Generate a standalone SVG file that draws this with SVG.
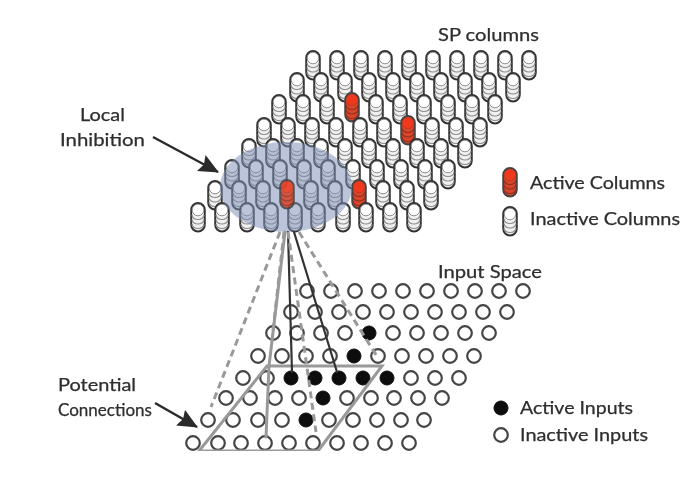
<svg xmlns="http://www.w3.org/2000/svg" width="694" height="482" viewBox="0 0 694 482">
<style>
text{font-family:Lato,"Open Sans","Liberation Sans",sans-serif;font-size:17px;fill:#2e2e2e;stroke:#2e2e2e;stroke-width:.25}
.i{fill:#fff;stroke:#444;stroke-width:2.2}
.a{fill:#111;stroke:#111;stroke-width:1}
.s{fill:none;stroke-linecap:round}
.gs{stroke:#999;stroke-width:3}
.ds{stroke:#333;stroke-width:2.2}
.gd{stroke:#999;stroke-width:3;stroke-dasharray:7 4.5;stroke-linecap:butt}
.ar{stroke:#2a2a2a;stroke-width:2.4;fill:none}
</style>
<defs>
<filter id="soft" x="0" y="0" width="100%" height="100%"><feGaussianBlur stdDeviation="0.55"/></filter>
<g id="col">
<rect x="-6.8" y="-7" width="13.6" height="28.5" rx="6.8" fill="#f0f0f0" stroke="#333" stroke-width="1.9"/>
<path d="M-6 5a6 4.5 0 0 0 12 0M-6 9.5a6 4.5 0 0 0 12 0M-6 14a6 4.5 0 0 0 12 0" fill="none" stroke="#8a8a8a" stroke-width="1.2"/>
<circle r="5.8" fill="#fff" stroke="#777" stroke-width=".8"/>
</g>
<g id="red">
<rect x="-6.8" y="-7" width="13.6" height="28.5" rx="6.8" fill="#d8442a" stroke="#444" stroke-width="1.9"/>
<path d="M-6 5a6 4.5 0 0 0 12 0M-6 9.5a6 4.5 0 0 0 12 0M-6 14a6 4.5 0 0 0 12 0" fill="none" stroke="#8c3020" stroke-width="1.2"/>
<circle r="5.8" fill="#f0391f" stroke="#b23a24" stroke-width=".8"/>
</g>
<marker id="head" markerUnits="userSpaceOnUse" markerWidth="22" markerHeight="20" refX="19" refY="9" orient="auto"><path d="M0 0L20 9L0 18L3 9Z" fill="#2a2a2a"/></marker>
</defs>
<rect width="694" height="482" fill="#fff"/>
<g filter="url(#soft)">
<g id="columns">
<g id="c8-0"><use href="#col" x="313" y="58"/></g><g id="c8-1"><use href="#col" x="337" y="58"/></g><g id="c8-2"><use href="#col" x="361" y="58"/></g><g id="c8-3"><use href="#col" x="385" y="58"/></g><g id="c8-4"><use href="#col" x="409" y="58"/></g><g id="c8-5"><use href="#col" x="433" y="58"/></g><g id="c8-6"><use href="#col" x="457" y="58"/></g><g id="c8-7"><use href="#col" x="481" y="58"/></g><g id="c8-8"><use href="#col" x="505" y="58"/></g><g id="c8-9"><use href="#col" x="529" y="58"/></g>
<g id="c7-0"><use href="#col" x="297" y="80"/></g><g id="c7-1"><use href="#col" x="321" y="80"/></g><g id="c7-2"><use href="#col" x="345" y="80"/></g><g id="c7-3"><use href="#col" x="369" y="80"/></g><g id="c7-4"><use href="#col" x="393" y="80"/></g><g id="c7-5"><use href="#col" x="417" y="80"/></g><g id="c7-6"><use href="#col" x="441" y="80"/></g><g id="c7-7"><use href="#col" x="465" y="80"/></g><g id="c7-8"><use href="#col" x="489" y="80"/></g><g id="c7-9"><use href="#col" x="513" y="80"/></g>
<g id="c6-0"><use href="#col" x="279" y="102"/></g><g id="c6-1"><use href="#col" x="303" y="102"/></g><g id="c6-2"><use href="#col" x="327" y="102"/></g><g id="c6-3"><use href="#red" x="352" y="100"/></g><g id="c6-4"><use href="#col" x="376" y="102"/></g><g id="c6-5"><use href="#col" x="400" y="102"/></g><g id="c6-6"><use href="#col" x="424" y="102"/></g><g id="c6-7"><use href="#col" x="448" y="102"/></g><g id="c6-8"><use href="#col" x="472" y="102"/></g><g id="c6-9"><use href="#col" x="495" y="102"/></g>
<g id="c5-0"><use href="#col" x="264" y="125"/></g><g id="c5-1"><use href="#col" x="288" y="125"/></g><g id="c5-2"><use href="#col" x="312" y="125"/></g><g id="c5-3"><use href="#col" x="336" y="125"/></g><g id="c5-4"><use href="#col" x="360" y="125"/></g><g id="c5-5"><use href="#col" x="384" y="125"/></g><g id="c5-6"><use href="#red" x="408" y="123"/></g><g id="c5-7"><use href="#col" x="432" y="125"/></g><g id="c5-8"><use href="#col" x="456" y="125"/></g><g id="c5-9"><use href="#col" x="480" y="125"/></g>
<g id="c4-0"><use href="#col" x="249" y="146"/></g><g id="c4-1"><use href="#col" x="273" y="146"/></g><g id="c4-2"><use href="#col" x="297" y="146"/></g><g id="c4-3"><use href="#col" x="321" y="146"/></g><g id="c4-4"><use href="#col" x="345" y="146"/></g><g id="c4-5"><use href="#col" x="369" y="146"/></g><g id="c4-6"><use href="#col" x="393" y="146"/></g><g id="c4-7"><use href="#col" x="417" y="146"/></g><g id="c4-8"><use href="#col" x="441" y="146"/></g><g id="c4-9"><use href="#col" x="465" y="146"/></g>
<g id="c3-0"><use href="#col" x="232" y="167"/></g><g id="c3-1"><use href="#col" x="256" y="167"/></g><g id="c3-2"><use href="#col" x="280" y="167"/></g><g id="c3-3"><use href="#col" x="304" y="167"/></g><g id="c3-4"><use href="#col" x="328" y="167"/></g><g id="c3-5"><use href="#col" x="353" y="167"/></g><g id="c3-6"><use href="#col" x="377" y="167"/></g><g id="c3-7"><use href="#col" x="401" y="167"/></g><g id="c3-8"><use href="#col" x="425" y="167"/></g><g id="c3-9"><use href="#col" x="448" y="167"/></g>
<g id="c2-0"><use href="#col" x="215" y="188"/></g><g id="c2-1"><use href="#col" x="239" y="188"/></g><g id="c2-2"><use href="#col" x="263" y="188"/></g><g id="c2-4"><use href="#col" x="311" y="188"/></g><g id="c2-5"><use href="#col" x="335" y="188"/></g><g id="c2-6"><use href="#red" x="359" y="187"/></g><g id="c2-7"><use href="#col" x="383" y="188"/></g><g id="c2-8"><use href="#col" x="407" y="188"/></g><g id="c2-9"><use href="#col" x="431" y="188"/></g>
<g id="c1-0"><use href="#col" x="198" y="210"/></g><g id="c1-1"><use href="#col" x="222" y="210"/></g><g id="c1-2"><use href="#col" x="247" y="210"/></g><g id="c1-3"><use href="#col" x="271" y="210"/></g><g id="c1-4"><use href="#col" x="295" y="210"/></g><g id="c1-5"><use href="#col" x="318" y="210"/></g><g id="c1-6"><use href="#col" x="343" y="210"/></g><g id="c1-7"><use href="#col" x="366" y="210"/></g><g id="c1-8"><use href="#col" x="390" y="210"/></g><g id="c1-9"><use href="#col" x="414" y="210"/></g>
</g>
<g id="inhibition-area"><ellipse cx="286" cy="187" rx="66" ry="45" fill="#7c8db6" fill-opacity="0.52"/></g>
<g id="c2-3"><use href="#red" x="287" y="187" opacity=".88"/></g>
<g id="inputs">
<g id="i8-0"><circle class="i" cx="307" cy="291" r="6.8"/></g><g id="i8-1"><circle class="i" cx="331" cy="291" r="6.8"/></g><g id="i8-2"><circle class="i" cx="355" cy="291" r="6.8"/></g><g id="i8-3"><circle class="i" cx="379" cy="291" r="6.8"/></g><g id="i8-4"><circle class="i" cx="403" cy="291" r="6.8"/></g><g id="i8-5"><circle class="i" cx="427" cy="291" r="6.8"/></g><g id="i8-6"><circle class="i" cx="451" cy="291" r="6.8"/></g><g id="i8-7"><circle class="i" cx="475" cy="291" r="6.8"/></g><g id="i8-8"><circle class="i" cx="499" cy="291" r="6.8"/></g><g id="i8-9"><circle class="i" cx="523" cy="291" r="6.8"/></g>
<g id="i7-0"><circle class="i" cx="291" cy="312" r="6.8"/></g><g id="i7-1"><circle class="i" cx="315" cy="312" r="6.8"/></g><g id="i7-2"><circle class="i" cx="339" cy="312" r="6.8"/></g><g id="i7-3"><circle class="i" cx="363" cy="312" r="6.8"/></g><g id="i7-4"><circle class="i" cx="387" cy="312" r="6.8"/></g><g id="i7-5"><circle class="i" cx="411" cy="312" r="6.8"/></g><g id="i7-6"><circle class="i" cx="435" cy="312" r="6.8"/></g><g id="i7-7"><circle class="i" cx="459" cy="312" r="6.8"/></g><g id="i7-8"><circle class="i" cx="483" cy="312" r="6.8"/></g><g id="i7-9"><circle class="i" cx="507" cy="312" r="6.8"/></g>
<g id="i6-0"><circle class="i" cx="273" cy="333" r="6.8"/></g><g id="i6-1"><circle class="i" cx="297" cy="333" r="6.8"/></g><g id="i6-2"><circle class="i" cx="321" cy="333" r="6.8"/></g><g id="i6-3"><circle class="i" cx="345" cy="333" r="6.8"/></g><g id="i6-4"><circle class="a" cx="369" cy="333" r="7"/></g><g id="i6-5"><circle class="i" cx="393" cy="333" r="6.8"/></g><g id="i6-6"><circle class="i" cx="417" cy="333" r="6.8"/></g><g id="i6-7"><circle class="i" cx="441" cy="333" r="6.8"/></g><g id="i6-8"><circle class="i" cx="465" cy="333" r="6.8"/></g><g id="i6-9"><circle class="i" cx="489" cy="333" r="6.8"/></g>
<g id="i5-0"><circle class="i" cx="258" cy="356" r="6.8"/></g><g id="i5-1"><circle class="i" cx="282" cy="356" r="6.8"/></g><g id="i5-2"><circle class="i" cx="306" cy="356" r="6.8"/></g><g id="i5-3"><circle class="i" cx="330" cy="356" r="6.8"/></g><g id="i5-4"><circle class="a" cx="354" cy="356" r="7"/></g><g id="i5-5"><circle class="i" cx="378" cy="356" r="6.8"/></g><g id="i5-6"><circle class="i" cx="402" cy="356" r="6.8"/></g><g id="i5-7"><circle class="i" cx="426" cy="356" r="6.8"/></g><g id="i5-8"><circle class="i" cx="450" cy="356" r="6.8"/></g><g id="i5-9"><circle class="i" cx="474" cy="356" r="6.8"/></g>
<g id="i4-0"><circle class="i" cx="243" cy="378" r="6.8"/></g><g id="i4-1"><circle class="i" cx="267" cy="378" r="6.8"/></g><g id="i4-2"><circle class="a" cx="291" cy="378" r="7"/></g><g id="i4-3"><circle class="a" cx="315" cy="378" r="7"/></g><g id="i4-4"><circle class="a" cx="339" cy="378" r="7"/></g><g id="i4-5"><circle class="a" cx="363" cy="378" r="7"/></g><g id="i4-6"><circle class="a" cx="387" cy="378" r="7"/></g><g id="i4-7"><circle class="i" cx="411" cy="378" r="6.8"/></g><g id="i4-8"><circle class="i" cx="435" cy="378" r="6.8"/></g><g id="i4-9"><circle class="i" cx="459" cy="378" r="6.8"/></g>
<g id="i3-0"><circle class="i" cx="226" cy="398" r="6.8"/></g><g id="i3-1"><circle class="i" cx="250" cy="398" r="6.8"/></g><g id="i3-2"><circle class="i" cx="275" cy="398" r="6.8"/></g><g id="i3-3"><circle class="i" cx="299" cy="398" r="6.8"/></g><g id="i3-4"><circle class="a" cx="323" cy="398" r="7"/></g><g id="i3-5"><circle class="i" cx="347" cy="398" r="6.8"/></g><g id="i3-6"><circle class="i" cx="371" cy="398" r="6.8"/></g><g id="i3-7"><circle class="i" cx="394" cy="398" r="6.8"/></g><g id="i3-8"><circle class="i" cx="418" cy="398" r="6.8"/></g><g id="i3-9"><circle class="i" cx="442" cy="398" r="6.8"/></g>
<g id="i2-0"><circle class="i" cx="208" cy="420" r="6.8"/></g><g id="i2-1"><circle class="i" cx="233" cy="420" r="6.8"/></g><g id="i2-2"><circle class="i" cx="258" cy="420" r="6.8"/></g><g id="i2-3"><circle class="i" cx="282" cy="420" r="6.8"/></g><g id="i2-4"><circle class="a" cx="306" cy="420" r="7"/></g><g id="i2-5"><circle class="i" cx="329" cy="420" r="6.8"/></g><g id="i2-6"><circle class="i" cx="353" cy="420" r="6.8"/></g><g id="i2-7"><circle class="i" cx="377" cy="420" r="6.8"/></g><g id="i2-8"><circle class="i" cx="401" cy="420" r="6.8"/></g><g id="i2-9"><circle class="i" cx="424" cy="420" r="6.8"/></g>
<g id="i1-0"><circle class="i" cx="193" cy="443" r="6.8"/></g><g id="i1-1"><circle class="i" cx="218" cy="443" r="6.8"/></g><g id="i1-2"><circle class="i" cx="241" cy="443" r="6.8"/></g><g id="i1-3"><circle class="i" cx="265" cy="443" r="6.8"/></g><g id="i1-4"><circle class="i" cx="289" cy="443" r="6.8"/></g><g id="i1-5"><circle class="i" cx="313" cy="443" r="6.8"/></g><g id="i1-6"><circle class="i" cx="337" cy="443" r="6.8"/></g><g id="i1-7"><circle class="i" cx="361" cy="443" r="6.8"/></g><g id="i1-8"><circle class="i" cx="385" cy="443" r="6.8"/></g><g id="i1-9"><circle class="i" cx="409" cy="443" r="6.8"/></g>
</g>
<g id="connectors">
<path class="s gs" d="M267 366H382L318 451H199Z M269 366L266 437"/>
<path class="s gs" d="M285 232L269 366"/>
<path class="s ds" d="M288 232L292 372"/>
<path class="s ds" d="M294 232L337 372"/>
<path class="s gd" d="M280 232L211 407"/>
<path class="s gd" d="M288 232L316 432"/>
<path class="s gd" d="M299 232L378 358"/>
<path class="s gd" d="M284 232L272 340"/>
<path class="ar" d="M153 137L218 172" marker-end="url(#head)"/>
<path class="ar" d="M155 403L197 427" marker-end="url(#head)"/>
</g>
<g id="legend-active-column"><use href="#red" x="510" y="175"/><text x="530" y="189" textLength="135" lengthAdjust="spacingAndGlyphs">Active Columns</text></g>
<g id="legend-inactive-column"><use href="#col" x="510" y="214"/><text x="530" y="225" textLength="150" lengthAdjust="spacingAndGlyphs">Inactive Columns</text></g>
<g id="legend-active-input"><circle class="a" cx="501" cy="408" r="7"/><text x="520" y="414" textLength="113" lengthAdjust="spacingAndGlyphs">Active Inputs</text></g>
<g id="legend-inactive-input"><circle class="i" cx="501" cy="435" r="6.8"/><text x="520" y="441" textLength="128" lengthAdjust="spacingAndGlyphs">Inactive Inputs</text></g>
<g id="labels">
<text x="438" y="41" textLength="101" lengthAdjust="spacingAndGlyphs">SP columns</text>
<text x="438" y="278" textLength="104" lengthAdjust="spacingAndGlyphs">Input Space</text>
<text x="80" y="121" textLength="45" lengthAdjust="spacingAndGlyphs">Local</text>
<text x="60" y="146" textLength="85" lengthAdjust="spacingAndGlyphs">Inhibition</text>
<text x="58" y="391" textLength="78" lengthAdjust="spacingAndGlyphs">Potential</text>
<text x="58" y="416" textLength="94" lengthAdjust="spacingAndGlyphs">Connections</text>
</g>
</g>
</svg>
